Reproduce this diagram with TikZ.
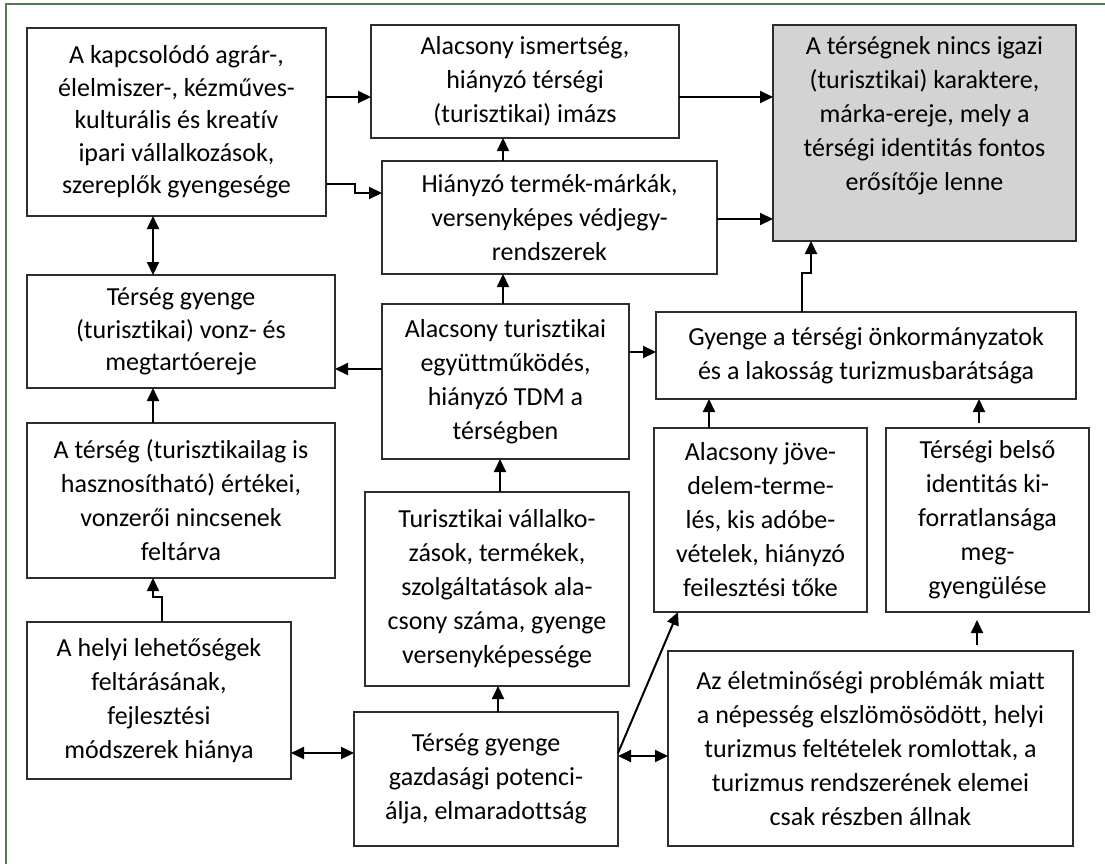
\documentclass[tikz,border=0pt]{standalone}
\usepackage{fontspec}
\setmainfont{Carlito}[Ligatures={NoCommon}]
\usetikzlibrary{arrows.meta}
\definecolor{frameg}{RGB}{80,125,80}
\definecolor{boxgray}{RGB}{211,211,211}
\definecolor{edgec}{RGB}{45,45,45}
\tikzset{
  box/.style={draw=edgec, line width=1.5pt, inner sep=0pt, outer sep=0pt, align=center,
    font=\fontsize{26}{34}\selectfont},
  tight/.style={font=\fontsize{26}{32.5}\selectfont},
  arr/.style={line width=2pt, -{Triangle[length=13pt,width=12pt]}},
  darr/.style={line width=2pt, {Triangle[length=13pt,width=12pt]}-{Triangle[length=13pt,width=12pt]}},
}
\begin{document}
\begin{tikzpicture}[x=1pt,y=-1pt]
\useasboundingbox (0,0) rectangle (1105,863);
\draw[frameg, line width=2.2pt] (6,870) -- (6,4) -- (1110,4);

\node[box, tight, minimum width=299pt, minimum height=188pt] (A) at (176.5,122) {A kapcsolódó agrár-,\\ élelmiszer-, kézműves-\\ kulturális és kreatív\\ ipari vállalkozások,\\ szereplők gyengesége};
\node[box, minimum width=308pt, minimum height=113pt] (B) at (525,81.5) {Alacsony ismertség,\\ hiányzó térségi\\ (turisztikai) imázs};
\node[box, fill=boxgray, minimum width=303pt, minimum height=216pt] (C) at (924.5,133) {A térségnek nincs igazi\\ (turisztikai) karaktere,\\ márka-ereje, mely a\\ térségi identitás fontos\\ erősítője lenne\\[6pt]};
\node[box, minimum width=335pt, minimum height=113pt] (D) at (549.5,217.5) {Hiányzó termék-márkák,\\ versenyképes védjegy-\\ rendszerek};
\node[box, tight, minimum width=308pt, minimum height=113pt] (E) at (181,331.5) {Térség gyenge\\ (turisztikai) vonz- és\\ megtartóereje};
\node[box, minimum width=308pt, minimum height=155pt] (F) at (181,500.5) {A térség (turisztikailag is\\ hasznosítható) értékei,\\ vonzerői nincsenek\\ feltárva};
\node[box, minimum width=247pt, minimum height=155pt] (G) at (505.5,381.5) {Alacsony turisztikai\\ együttműködés,\\ hiányzó TDM a\\ térségben};
\node[box, minimum width=420pt, minimum height=87pt] (H) at (866,355.5) {Gyenge a térségi önkormányzatok\\ és a lakosság turizmusbarátsága};
\node[box, minimum width=213pt, minimum height=184pt] (I) at (760.5,520) {Alacsony jöve-\\ delem-terme-\\ lés, kis adóbe-\\ vételek, hiányzó\\ feilesztési tőke};
\node[box, minimum width=203pt, minimum height=184pt] (J) at (987.5,520) {Térségi belső\\ identitás ki-\\ forratlansága\\ meg-\\ gyengülése};
\node[box, minimum width=264pt, minimum height=194pt] (K) at (497,589) {Turisztikai vállalko-\\ zások, termékek,\\ szolgáltatások ala-\\ csony száma, gyenge\\ versenyképessége};
\node[box, minimum width=264pt, minimum height=157pt] (L) at (159,700.5) {A helyi lehetőségek\\ feltárásának,\\ fejlesztési\\ módszerek hiánya};
\node[box, minimum width=264pt, minimum height=134pt] (M) at (486,779) {Térség gyenge\\ gazdasági potenci-\\ álja, elmaradottság};
\node[box, minimum width=405pt, minimum height=195pt] (N) at (870.5,748.5) {Az életminőségi problémák miatt\\ a népesség elszlömösödött, helyi\\ turizmus feltételek romlottak, a\\ turizmus rendszerének elemei\\ csak részben állnak};

% helper levels
\coordinate (h1) at (0,97);
\coordinate (h2) at (0,184);
\coordinate (h3) at (0,193);
\coordinate (h4) at (0,219);
\coordinate (h5) at (0,369);
\coordinate (h6) at (0,352);
\coordinate (h7) at (0,273);
\coordinate (h8) at (0,597);
\coordinate (h9) at (0,753);
\coordinate (h10) at (0,756);
\coordinate (v1) at (503,0);
\coordinate (v2) at (153,0);
\coordinate (v3) at (802,0);
\coordinate (v4) at (811,0);
\coordinate (v5) at (162,0);
\coordinate (v6) at (678,0);
\coordinate (v7) at (709,0);
\coordinate (v8) at (979,0);
\coordinate (v9) at (500,0);
\coordinate (v10) at (498,0);
\coordinate (v11) at (977,0);
\coordinate (k1) at (355,0);

\draw[arr] (A.east|-h1) -- (B.west|-h1);
\draw[arr] (B.east|-h1) -- (C.west|-h1);
\draw[arr] (A.east|-h2) -- (k1|-h2) -- (k1|-h3) -- (D.west|-h3);
\draw[arr] (D.east|-h4) -- (C.west|-h4);
\draw[arr] (D.north-|v1) -- (B.south-|v1);
\draw[darr] (A.south-|v2) -- (E.north-|v2);
\draw[arr] (F.north-|v2) -- (E.south-|v2);
\draw[arr] (G.west|-h5) -- (E.east|-h5);
\draw[arr] (G.north-|v1) -- (D.south-|v1);
\draw[arr] (G.east|-h6) -- (H.west|-h6);
\draw[arr] (H.north-|v3) -- (v3|-h7) -- (v4|-h7) -- (C.south-|v4);
\draw[arr] (I.north-|v7) -- (H.south-|v7);
\draw[arr, shorten <=5pt] (J.north-|v8) -- (H.south-|v8);
\draw[arr] (K.north-|v9) -- (G.south-|v9);
\draw[arr] (L.north-|v5) -- (v5|-h8) -- (v2|-h8) -- (F.south-|v2);
\draw[darr] (L.east|-h9) -- (M.west|-h9);
\draw[arr] (M.north-|v10) -- (K.south-|v10);
\draw[arr] (M.east|-h9) -- (I.south-|v6);
\draw[darr] (M.east|-h10) -- (N.west|-h10);
\draw[arr, shorten <=6pt, shorten >=8pt] (N.north-|v11) -- (J.south-|v11);
\end{tikzpicture}
\end{document}
